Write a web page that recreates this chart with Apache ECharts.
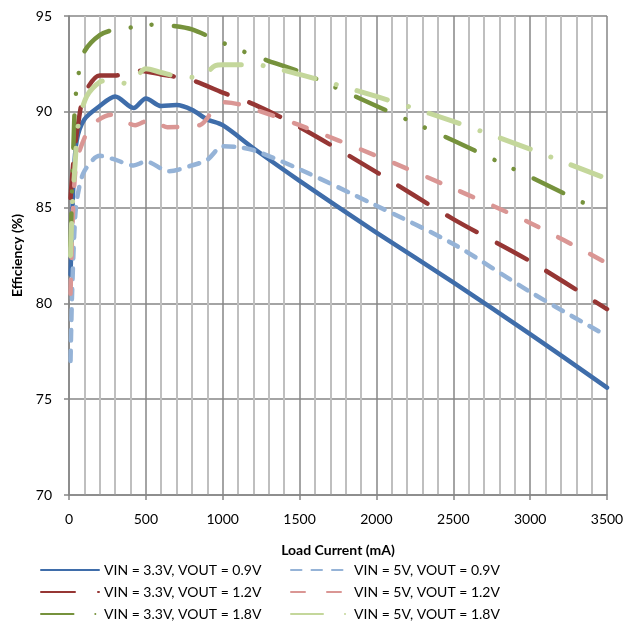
<!DOCTYPE html>
<html>
<head>
<meta charset="utf-8">
<script src="https://cdn.jsdelivr.net/npm/echarts@6/dist/echarts.min.js"></script>
<style>
  html, body { margin: 0; padding: 0; background: #fff; }
  #main { width: 628px; height: 627px; }
</style>
</head>
<body>
<div id="main"></div>
<script>
// legend names, in the order the series are drawn
const names = [
  'VIN = 3.3V, VOUT = 0.9V',
  'VIN = 5V, VOUT = 0.9V',
  'VIN = 3.3V, VOUT = 1.2V',
  'VIN = 5V, VOUT = 1.2V',
  'VIN = 3.3V, VOUT = 1.8V',
  'VIN = 5V, VOUT = 1.8V'
]

// load current (mA) and efficiency (%)
const iout33v09 = [10, 30, 50, 100, 200, 300, 420, 500, 600, 700, 800, 900, 1000, 1200, 1500, 2000, 2500, 3000, 3500]
const eff33v09 = [81.5, 86.5, 88.5, 89.6, 90.3, 90.8, 90.2, 90.7, 90.3, 90.35, 90.1, 89.6, 89.3, 88.1, 86.4, 83.7, 81.1, 78.4, 75.6]

const iout5v09 = [10, 20, 40, 60, 100, 200, 300, 420, 500, 650, 800, 900, 1000, 1100, 1200, 1500, 2000, 2500, 3000, 3500]
const eff5v09 = [77.0, 80.5, 84.5, 85.8, 86.9, 87.7, 87.5, 87.2, 87.4, 86.9, 87.2, 87.5, 88.2, 88.15, 88.0, 87.0, 85.1, 83.1, 80.6, 78.3]

const iout33v12 = [10, 30, 60, 100, 200, 300, 450, 600, 800, 1000, 1200, 1500, 2000, 2500, 3000, 3500]
const eff33v12 = [85.5, 87.5, 89.4, 90.9, 91.9, 91.9, 92.15, 91.95, 91.65, 91.0, 90.4, 89.2, 86.85, 84.4, 82.2, 79.7]

const iout5v12 = [10, 20, 40, 70, 150, 280, 430, 530, 640, 850, 940, 1000, 1100, 1200, 1500, 2000, 2500, 3000, 3500]
const eff5v12 = [80.5, 83.5, 86.8, 88.0, 89.3, 89.85, 89.3, 89.6, 89.2, 89.3, 90.1, 90.5, 90.4, 90.15, 89.3, 87.7, 86.0, 84.2, 82.1]

const iout33v18 = [10, 20, 30, 40, 65, 100, 200, 300, 420, 550, 680, 800, 1000, 1150, 1300, 1500, 2000, 2500, 3000, 3450]
const eff33v18 = [83.0, 86.0, 88.5, 90.5, 92.1, 93.15, 94.0, 94.3, 94.42, 94.55, 94.48, 94.3, 93.6, 93.1, 92.65, 92.1, 90.3, 88.5, 86.6, 84.85]

const iout5v18 = [10, 20, 40, 60, 115, 200, 270, 390, 500, 600, 720, 850, 950, 1000, 1200, 1500, 2000, 2500, 3000, 3500]
const eff5v18 = [82.5, 84.8, 87.3, 89.3, 90.8, 91.55, 91.65, 91.45, 92.25, 92.05, 91.83, 91.8, 92.4, 92.45, 92.45, 91.95, 90.8, 89.5, 88.05, 86.5]

const xTicks = [0, 500, 1000, 1500, 2000, 2500, 3000, 3500]
const yTicks = [70, 75, 80, 85, 90, 95]

const FONT = 'Lato'

function pairs(xs, ys) {
  return xs.map((x, i) => [x, ys[i]])
}

const chart = echarts.init(document.getElementById('main'), null, { renderer: 'canvas' })

function mkSeries(name, data, color, width, dash) {
  return {
    name: name,
    type: 'line',
    data: data,
    smooth: 0.3,
    symbol: 'none',
    animation: false,
    lineStyle: {
      color: color,
      width: width,
      type: dash || 'solid',
      cap: 'round',
      join: 'round'
    },
    itemStyle: { color: color }
  }
}

const legendText = { fontFamily: FONT, fontSize: 14, color: '#000' }

const option = {
  animation: false,
  backgroundColor: '#fff',
  grid: { left: 69, right: 21, top: 16, bottom: 132, containLabel: false },
  xAxis: {
    type: 'value',
    min: xTicks[0],
    max: xTicks[xTicks.length - 1],
    interval: 500,
    name: 'Load Current (mA)',
    nameLocation: 'middle',
    nameGap: 48,
    nameTextStyle: { fontFamily: FONT, fontSize: 14, fontWeight: 'bold', color: '#000' },
    axisLine: { show: true, lineStyle: { color: '#868686', width: 1.5 } },
    axisTick: { show: true, length: 5, lineStyle: { color: '#868686', width: 1.5 } },
    axisLabel: { margin: 17, fontFamily: FONT, fontSize: 14, color: '#000', formatter: v => String(v) },
    splitLine: { show: true, lineStyle: { color: '#868686', width: 1.5 } },
    minorTick: { show: false, splitNumber: 5 },
    minorSplitLine: { show: true, lineStyle: { color: '#bfbfbf', width: 2 } }
  },
  yAxis: {
    type: 'value',
    min: yTicks[0],
    max: yTicks[yTicks.length - 1],
    interval: 5,
    name: 'Efficiency (%)',
    nameLocation: 'middle',
    nameGap: 39,
    nameTextStyle: { fontFamily: FONT, fontSize: 14, fontWeight: 'bold', color: '#000' },
    axisLine: { show: true, lineStyle: { color: '#868686', width: 1.5 } },
    axisTick: { show: true, length: 5, lineStyle: { color: '#868686', width: 1.5 } },
    axisLabel: { margin: 17, fontFamily: FONT, fontSize: 14, color: '#000' },
    splitLine: { show: true, lineStyle: { color: '#868686', width: 1.5 } }
  },
  legend: [
    {
      data: [names[0], names[2], names[4]],
      orient: 'vertical',
      left: 40,
      top: 563,
      padding: 0,
      itemWidth: 58,
      itemHeight: 14,
      itemGap: 8,
      itemStyle: { opacity: 0 },
      textStyle: legendText
    },
    {
      data: [names[1], names[3], names[5]],
      orient: 'vertical',
      left: 290,
      top: 563,
      padding: 0,
      itemWidth: 58,
      itemHeight: 14,
      itemGap: 8,
      itemStyle: { opacity: 0 },
      textStyle: legendText
    }
  ],
  series: [
    mkSeries(names[0], pairs(iout33v09, eff33v09), '#3f6daa', 4.5),
    mkSeries(names[1], pairs(iout5v09, eff5v09), '#95b3d7', 4.5, [10.5, 10]),
    mkSeries(names[2], pairs(iout33v12, eff33v12), '#963634', 4.5, [34, 23]),
    mkSeries(names[3], pairs(iout5v12, eff5v12), '#da9694', 4.5, [14, 22]),
    mkSeries(names[4], pairs(iout33v18, eff33v18), '#76923c', 4.5, [32.5, 21.8, 0.01, 21, 0.01, 22.6]),
    mkSeries(names[5], pairs(iout5v18, eff5v18), '#c4d79b', 5, [32, 22, 0.01, 21.5])
  ]
}

chart.setOption(option)
</script>
</body>
</html>
